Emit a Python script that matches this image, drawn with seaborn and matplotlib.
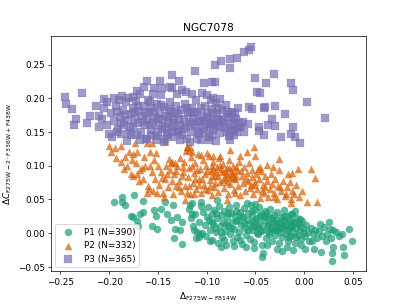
import matplotlib
matplotlib.use("Agg")
import matplotlib.pyplot as plt
import seaborn as sns
import pandas as pd
import numpy as np

title = "NGC7078"
labels = ["P1 (N=390)", "P2 (N=332)", "P3 (N=365)"]
colors = sns.color_palette("Dark2", 3)
markers = ["o", "^", "s"]

# P1 - circles
p1_pts = [
    (-0.195, 0.046), (-0.187, 0.053), (-0.187, 0.046), (-0.184, 0.041), (-0.174, 0.056),
    (-0.165, 0.048), (-0.178, 0.026), (-0.175, 0.024), (-0.171, 0.018), (-0.168, 0.029),
    (-0.165, 0.031), (-0.170, 0.011), (-0.154, 0.034), (-0.152, 0.026), (-0.156, 0.011),
    (-0.151, 0.006), (-0.147, 0.036), (-0.143, 0.046), (-0.141, 0.029), (-0.137, 0.019),
    (-0.134, 0.041), (-0.132, 0.006), (-0.130, 0.024), (-0.125, 0.016), (-0.127, 0.004),
    (-0.133, -0.008), (-0.125, -0.016), (-0.117, 0.041), (-0.115, 0.029), (-0.113, 0.004),
    (-0.108, -0.006), (-0.105, 0.000), (-0.100, 0.024), (-0.118, 0.036), (-0.116, 0.022),
    (-0.114, 0.010), (-0.112, 0.028), (-0.110, 0.002), (-0.108, 0.016), (-0.106, 0.040),
    (-0.111, -0.008), (-0.107, -0.002), (-0.115, 0.045), (-0.106, 0.046), (-0.089, 0.049),
    (-0.059, 0.044), (-0.050, 0.043), (-0.104, 0.032), (-0.102, 0.012), (-0.101, -0.004),
    (-0.099, 0.038), (-0.098, 0.020), (-0.097, 0.005), (-0.095, 0.028), (-0.094, -0.010),
    (-0.093, 0.014), (-0.092, 0.034), (-0.090, 0.001), (-0.089, 0.022), (-0.088, -0.014),
    (-0.087, 0.040), (-0.086, 0.010), (-0.085, 0.027), (-0.084, -0.006), (-0.083, 0.017),
    (-0.082, 0.033), (-0.081, 0.003), (-0.080, -0.018), (-0.079, 0.024), (-0.078, 0.011),
    (-0.077, 0.038), (-0.076, -0.002), (-0.075, 0.030), (-0.074, 0.016), (-0.073, -0.012),
    (-0.072, 0.006), (-0.071, 0.026), (-0.070, 0.041), (-0.069, -0.006), (-0.068, 0.019),
    (-0.067, 0.002), (-0.066, 0.032), (-0.065, 0.012), (-0.064, -0.016), (-0.063, 0.024),
    (-0.062, 0.037), (-0.061, 0.007), (-0.060, -0.003), (-0.059, 0.020), (-0.058, 0.030),
    (-0.057, 0.013), (-0.056, -0.009), (-0.055, 0.041), (-0.054, 0.004), (-0.053, 0.026),
    (-0.052, 0.017), (-0.051, -0.013), (-0.050, 0.034), (-0.049, 0.009), (-0.048, 0.022),
    (-0.047, -0.002), (-0.046, 0.038), (-0.045, 0.014), (-0.044, 0.029), (-0.043, -0.018),
    (-0.042, 0.005), (-0.041, 0.019), (-0.040, 0.033), (-0.039, -0.007), (-0.038, 0.011),
    (-0.037, 0.025), (-0.036, 0.001), (-0.035, 0.036), (-0.034, 0.016), (-0.033, -0.011),
    (-0.032, 0.008), (-0.031, 0.027), (-0.030, -0.003), (-0.029, 0.019), (-0.028, 0.031),
    (-0.027, 0.004), (-0.026, -0.015), (-0.025, 0.013), (-0.024, 0.024), (-0.023, -0.006),
    (-0.022, 0.009), (-0.021, 0.034), (-0.020, 0.017), (-0.019, -0.001), (-0.018, 0.026),
    (-0.017, -0.012), (-0.016, 0.006), (-0.015, 0.020), (-0.014, 0.011), (-0.013, -0.005),
    (-0.012, 0.028), (-0.011, 0.002), (-0.010, 0.016), (-0.009, -0.014), (-0.008, 0.008),
    (-0.007, 0.022), (-0.006, -0.003), (-0.005, 0.013), (-0.004, 0.004), (-0.003, -0.009),
    (-0.002, 0.018), (-0.001, 0.007), (0.001, -0.004), (0.002, 0.012), (0.004, 0.001),
    (0.005, -0.012), (0.007, 0.008), (0.009, -0.002), (0.011, 0.005), (0.013, -0.007),
    (0.015, 0.003), (0.018, -0.004), (0.020, 0.009), (0.023, -0.001), (0.026, 0.006),
    (0.028, -0.008), (0.033, 0.002), (0.036, -0.004), (-0.062, 0.015), (-0.058, 0.005),
    (-0.054, 0.033), (-0.050, 0.020), (-0.047, 0.010), (-0.044, 0.003), (-0.040, 0.024),
    (-0.037, 0.014), (-0.034, 0.006), (-0.031, 0.017), (-0.028, 0.010), (-0.025, 0.001),
    (-0.022, 0.019), (-0.019, 0.012), (-0.016, -0.006), (-0.013, 0.017), (-0.095, 0.017),
    (-0.090, 0.030), (-0.085, 0.001), (-0.080, 0.014), (-0.075, 0.008), (-0.070, 0.018),
    (-0.066, -0.010), (0.046, 0.006), (0.049, -0.011), (0.039, -0.001), (0.040, -0.021),
    (0.041, -0.032), (0.029, -0.030), (0.029, -0.041), (0.030, -0.021), (0.022, -0.011),
    (0.017, -0.028), (0.010, -0.023), (0.008, -0.011), (0.016, 0.014), (0.025, 0.016),
    (0.030, 0.004), (-0.009, 0.033), (-0.014, 0.029), (-0.004, 0.021), (-0.051, -0.022),
    (-0.042, -0.030), (-0.043, -0.035), (-0.038, -0.017), (-0.028, -0.023), (-0.023, -0.026),
    (-0.011, -0.025), (-0.018, -0.020), (-0.003, -0.018), (0.001, -0.024), (-0.060, -0.020),
    (-0.072, -0.019), (-0.085, -0.020), (-0.097, -0.012),
    (-0.045, 0.025), (-0.039, 0.030), (-0.033, 0.022), (-0.027, 0.015), (-0.021, 0.025),
    (-0.052, 0.010), (-0.048, 0.000), (-0.036, -0.002), (-0.030, 0.005), (-0.024, 0.007),
    (-0.018, 0.004), (-0.012, 0.010), (-0.006, 0.015), (0.000, 0.000), (-0.008, -0.006),
    (-0.065, 0.025), (-0.078, 0.030), (-0.091, 0.008), (-0.082, -0.010), (-0.070, 0.033),
]

# P2 - triangles
p2_pts = [
    (-0.200, 0.129), (-0.198, 0.121), (-0.194, 0.126), (-0.188, 0.129), (-0.193, 0.111),
    (-0.184, 0.113), (-0.182, 0.099), (-0.177, 0.109), (-0.175, 0.117), (-0.173, 0.133),
    (-0.171, 0.121), (-0.171, 0.088), (-0.176, 0.085), (-0.169, 0.078), (-0.166, 0.096),
    (-0.164, 0.113), (-0.161, 0.133), (-0.158, 0.121), (-0.156, 0.133), (-0.154, 0.108),
    (-0.152, 0.119), (-0.161, 0.059), (-0.159, 0.066), (-0.151, 0.059), (-0.144, 0.054),
    (-0.143, 0.136), (-0.141, 0.087), (-0.137, 0.104), (-0.132, 0.104), (-0.122, 0.049),
    (-0.120, 0.127), (-0.117, 0.127), (-0.106, 0.116), (-0.100, 0.119), (-0.093, 0.114),
    (-0.086, 0.115), (-0.076, 0.124), (-0.066, 0.114), (-0.059, 0.121), (-0.051, 0.128),
    (-0.050, 0.114), (-0.045, 0.098), (-0.038, 0.101), (-0.032, 0.098), (-0.026, 0.110),
    (-0.026, 0.093), (-0.017, 0.088), (-0.012, 0.089), (-0.006, 0.095), (0.007, 0.095),
    (0.011, 0.082), (0.013, 0.046), (0.003, 0.046), (-0.002, 0.063), (-0.012, 0.063),
    (-0.014, 0.044), (-0.019, 0.058), (-0.025, 0.068), (-0.031, 0.053), (-0.043, 0.063),
    (-0.051, 0.071), (-0.071, 0.060), (-0.079, 0.049), (-0.113, 0.058),
    (-0.188, 0.105), (-0.185, 0.095), (-0.180, 0.120), (-0.178, 0.088), (-0.172, 0.104),
    (-0.168, 0.093), (-0.165, 0.080), (-0.163, 0.099), (-0.160, 0.070), (-0.158, 0.100),
    (-0.156, 0.090), (-0.155, 0.062), (-0.153, 0.080), (-0.150, 0.100), (-0.149, 0.072),
    (-0.147, 0.090), (-0.145, 0.060), (-0.143, 0.080), (-0.142, 0.100), (-0.140, 0.068),
    (-0.138, 0.094), (-0.136, 0.078), (-0.135, 0.105), (-0.134, 0.058), (-0.133, 0.087),
    (-0.131, 0.070), (-0.130, 0.100), (-0.128, 0.078), (-0.127, 0.112), (-0.126, 0.062),
    (-0.124, 0.090), (-0.123, 0.105), (-0.122, 0.070), (-0.121, 0.122), (-0.119, 0.083),
    (-0.118, 0.097), (-0.117, 0.058), (-0.116, 0.113), (-0.114, 0.075), (-0.113, 0.089),
    (-0.112, 0.104), (-0.111, 0.066), (-0.109, 0.118), (-0.108, 0.081), (-0.107, 0.095),
    (-0.106, 0.060), (-0.104, 0.108), (-0.103, 0.072), (-0.102, 0.087), (-0.101, 0.100),
    (-0.099, 0.064), (-0.098, 0.115), (-0.097, 0.079), (-0.096, 0.092), (-0.094, 0.056),
    (-0.093, 0.106), (-0.092, 0.069), (-0.091, 0.084), (-0.089, 0.098), (-0.088, 0.061),
    (-0.087, 0.112), (-0.086, 0.076), (-0.084, 0.090), (-0.083, 0.103), (-0.082, 0.067),
    (-0.081, 0.082), (-0.079, 0.096), (-0.078, 0.058), (-0.077, 0.109), (-0.076, 0.073),
    (-0.074, 0.087), (-0.073, 0.100), (-0.072, 0.064), (-0.071, 0.080), (-0.069, 0.093),
    (-0.068, 0.070), (-0.067, 0.106), (-0.066, 0.057), (-0.064, 0.085), (-0.063, 0.075),
    (-0.062, 0.098), (-0.061, 0.062), (-0.059, 0.089), (-0.058, 0.078), (-0.057, 0.104),
    (-0.056, 0.067), (-0.054, 0.083), (-0.053, 0.094), (-0.052, 0.058), (-0.050, 0.076),
    (-0.049, 0.088), (-0.048, 0.065), (-0.046, 0.081), (-0.045, 0.052), (-0.044, 0.092),
    (-0.042, 0.071), (-0.041, 0.060), (-0.040, 0.084), (-0.038, 0.077), (-0.037, 0.054),
    (-0.035, 0.066), (-0.034, 0.088), (-0.033, 0.073), (-0.031, 0.060), (-0.030, 0.080),
    (-0.028, 0.050), (-0.027, 0.070), (-0.024, 0.062), (-0.022, 0.078), (-0.020, 0.055),
    (-0.018, 0.068), (-0.015, 0.076), (-0.013, 0.050), (-0.010, 0.058), (-0.008, 0.072),
    (-0.005, 0.053), (-0.120, 0.128), (-0.118, 0.124), (-0.115, 0.120), (-0.090, 0.090),
    (-0.085, 0.095), (-0.080, 0.088), (-0.078, 0.085), (-0.075, 0.092), (-0.072, 0.082),
    (-0.070, 0.098), (-0.100, 0.092), (-0.095, 0.085), (-0.110, 0.094), (-0.105, 0.080),
    (-0.115, 0.100), (-0.125, 0.085),
    (-0.083, 0.079), (-0.079, 0.076), (-0.075, 0.082), (-0.088, 0.085), (-0.093, 0.095),
    (-0.097, 0.070), (-0.102, 0.065), (-0.120, 0.060), (-0.128, 0.068), (-0.065, 0.092),
    (-0.060, 0.080), (-0.055, 0.072), (-0.047, 0.095), (-0.040, 0.068),
    (-0.081, 0.092), (-0.077, 0.097), (-0.073, 0.089), (-0.070, 0.085), (-0.086, 0.101),
    (-0.112, 0.080), (-0.108, 0.072), (-0.118, 0.070), (-0.124, 0.098), (-0.131, 0.092),
    (-0.146, 0.082), (-0.139, 0.110), (-0.095, 0.100), (-0.091, 0.075),
]

# P3 - squares
p3_pts = [
    (-0.245, 0.202), (-0.244, 0.192), (-0.238, 0.184), (-0.234, 0.170), (-0.236, 0.160),
    (-0.228, 0.208), (-0.220, 0.174), (-0.223, 0.163), (-0.213, 0.188), (-0.210, 0.157),
    (-0.210, 0.174), (-0.161, 0.225), (-0.148, 0.226), (-0.136, 0.234), (-0.128, 0.225),
    (-0.112, 0.240), (-0.103, 0.223), (-0.095, 0.224), (-0.091, 0.224), (-0.091, 0.249),
    (-0.085, 0.256), (-0.076, 0.259), (-0.069, 0.260), (-0.076, 0.245), (-0.062, 0.268),
    (-0.057, 0.272), (-0.055, 0.276), (-0.050, 0.230), (-0.048, 0.209), (-0.045, 0.208),
    (-0.039, 0.223), (-0.031, 0.236), (-0.030, 0.189), (-0.040, 0.187), (-0.041, 0.185),
    (-0.054, 0.184), (-0.057, 0.187), (-0.046, 0.158), (-0.046, 0.152), (-0.037, 0.161),
    (-0.030, 0.159), (-0.020, 0.176), (-0.014, 0.222), (-0.011, 0.212), (0.003, 0.195),
    (-0.011, 0.157), (-0.013, 0.147), (-0.009, 0.143), (-0.004, 0.133), (0.021, 0.171),
    (-0.024, 0.143), (-0.058, 0.162), (-0.041, 0.145), (-0.033, 0.169),
    (-0.205, 0.199), (-0.202, 0.195), (-0.195, 0.200), (-0.190, 0.198), (-0.187, 0.203),
    (-0.181, 0.200), (-0.176, 0.202), (-0.171, 0.211), (-0.168, 0.206), (-0.164, 0.217),
    (-0.155, 0.206), (-0.154, 0.216), (-0.147, 0.205), (-0.146, 0.216), (-0.138, 0.217),
    (-0.135, 0.216), (-0.130, 0.207), (-0.125, 0.213), (-0.121, 0.209), (-0.115, 0.207),
    (-0.105, 0.208), (-0.100, 0.205), (-0.093, 0.201), (-0.086, 0.199), (-0.096, 0.197),
    (-0.200, 0.147), (-0.192, 0.150), (-0.182, 0.137), (-0.171, 0.145), (-0.168, 0.138),
    (-0.161, 0.140), (-0.151, 0.138), (-0.144, 0.135), (-0.134, 0.143), (-0.127, 0.138),
    (-0.120, 0.139), (-0.117, 0.135), (-0.106, 0.138), (-0.098, 0.138), (-0.090, 0.137),
    (-0.076, 0.138), (-0.072, 0.145), (-0.066, 0.157), (-0.062, 0.150), (-0.067, 0.163),
    (-0.072, 0.171), (-0.198, 0.178), (-0.195, 0.166), (-0.193, 0.188), (-0.191, 0.155),
    (-0.189, 0.172), (-0.186, 0.183), (-0.185, 0.160), (-0.183, 0.194), (-0.181, 0.168),
    (-0.180, 0.149), (-0.178, 0.177), (-0.176, 0.186), (-0.175, 0.158), (-0.173, 0.170),
    (-0.172, 0.196), (-0.170, 0.163), (-0.169, 0.181), (-0.167, 0.150), (-0.166, 0.174),
    (-0.164, 0.189), (-0.163, 0.160), (-0.161, 0.168), (-0.160, 0.197), (-0.159, 0.179),
    (-0.157, 0.153), (-0.156, 0.185), (-0.155, 0.165), (-0.153, 0.172), (-0.152, 0.144),
    (-0.151, 0.192), (-0.149, 0.161), (-0.148, 0.178), (-0.146, 0.155), (-0.145, 0.168),
    (-0.144, 0.187), (-0.142, 0.174), (-0.141, 0.149), (-0.140, 0.162), (-0.138, 0.195),
    (-0.137, 0.181), (-0.136, 0.157), (-0.134, 0.170), (-0.133, 0.164), (-0.131, 0.188),
    (-0.130, 0.152), (-0.129, 0.176), (-0.127, 0.160), (-0.126, 0.183), (-0.125, 0.145),
    (-0.123, 0.169), (-0.122, 0.192), (-0.121, 0.157), (-0.119, 0.178), (-0.118, 0.165),
    (-0.116, 0.150), (-0.115, 0.186), (-0.114, 0.171), (-0.112, 0.159), (-0.111, 0.197),
    (-0.110, 0.180), (-0.108, 0.147), (-0.107, 0.166), (-0.105, 0.174), (-0.104, 0.155),
    (-0.102, 0.189), (-0.101, 0.162), (-0.099, 0.178), (-0.098, 0.143), (-0.096, 0.170),
    (-0.095, 0.184), (-0.093, 0.153), (-0.092, 0.165), (-0.090, 0.193), (-0.089, 0.176),
    (-0.087, 0.158), (-0.086, 0.148), (-0.084, 0.182), (-0.083, 0.167), (-0.081, 0.156),
    (-0.080, 0.190), (-0.078, 0.172), (-0.077, 0.144), (-0.075, 0.163), (-0.074, 0.180),
    (-0.072, 0.153), (-0.070, 0.169), (-0.068, 0.186), (-0.066, 0.158),
    (-0.205, 0.185), (-0.207, 0.170), (-0.202, 0.160), (-0.197, 0.142), (-0.188, 0.147),
    (-0.162, 0.140), (-0.150, 0.150), (-0.143, 0.140), (-0.139, 0.172), (-0.128, 0.150),
    (-0.117, 0.180), (-0.109, 0.152), (-0.103, 0.167), (-0.097, 0.157), (-0.094, 0.145),
    (-0.088, 0.186), (-0.085, 0.170), (-0.079, 0.150), (-0.076, 0.177), (-0.073, 0.160),
    (-0.192, 0.180), (-0.188, 0.163), (-0.184, 0.175), (-0.179, 0.157), (-0.174, 0.180),
    (-0.170, 0.188), (-0.165, 0.165), (-0.162, 0.178), (-0.158, 0.160), (-0.154, 0.180),
    (-0.150, 0.170), (-0.147, 0.190), (-0.143, 0.158), (-0.139, 0.184), (-0.135, 0.150),
    (-0.132, 0.178), (-0.128, 0.168), (-0.124, 0.155), (-0.120, 0.186), (-0.116, 0.162),
    (-0.113, 0.178), (-0.109, 0.165), (-0.106, 0.185), (-0.103, 0.150), (-0.100, 0.172),
    (-0.096, 0.162), (-0.093, 0.178), (-0.090, 0.160), (-0.087, 0.168), (-0.082, 0.162),
    (-0.079, 0.180), (-0.075, 0.152), (-0.071, 0.178), (-0.069, 0.150), (-0.063, 0.165),
    (-0.110, 0.140), (-0.140, 0.145), (-0.157, 0.145), (-0.178, 0.145), (-0.158, 0.195),
]

frames = []
for pts, lab in zip([p1_pts, p2_pts, p3_pts], labels):
    arr = np.array(pts)
    frames.append(pd.DataFrame({"x": arr[:, 0], "y": arr[:, 1], "pop": lab}))
df = pd.concat(frames, ignore_index=True)

fig, ax = plt.subplots(figsize=(6.4, 4.8), dpi=407 / 6.4)
for lab, col, mk in zip(labels, colors, markers):
    sub = df[df["pop"] == lab]
    sns.scatterplot(data=sub, x="x", y="y", color=col, marker=mk, s=65,
                    alpha=0.7, edgecolor=col, linewidth=0.3, label=lab, ax=ax)

ax.set_title(title)
ax.set_xlabel(r"$\Delta_{\rm F275W-F814W}$")
ax.set_ylabel(r"$\Delta C_{\rm F275W-2\cdot F336W+F438W}$")
ax.legend(loc="lower left")
fig.savefig("out.png", dpi=407 / 6.4)
